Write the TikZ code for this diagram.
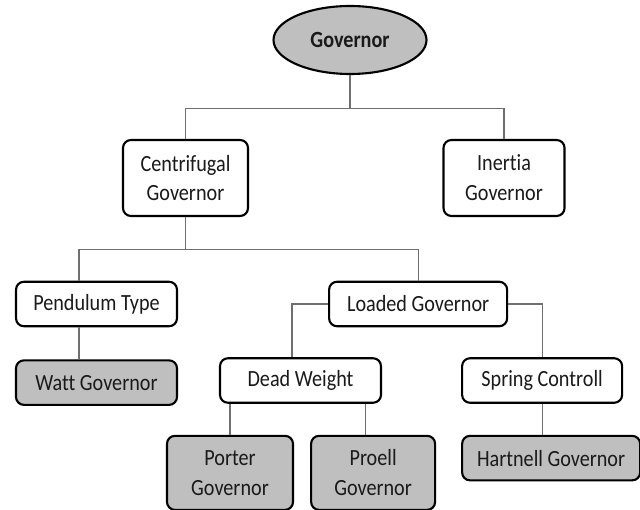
\documentclass[tikz,border=0pt]{standalone}
\usepackage{fontspec}
\setmainfont{Carlito}[FakeStretch=0.87,Ligatures=NoCommon]
\usepackage{tikz}
\usetikzlibrary{shapes.geometric,positioning}
\definecolor{govgrey}{HTML}{BFBFBF}
\definecolor{govline}{HTML}{6F6F6F}
\definecolor{govtext}{HTML}{1A1A1A}
\begin{document}
\begin{tikzpicture}[
  node distance=0.64cm and 3cm,
  box/.style={rectangle,rounded corners=4.5pt,draw=black,line width=1.2pt,fill=white,
    align=center,inner sep=3pt,text=govtext,font=\fontsize{13.2}{17}\selectfont,
    minimum height=0.89cm},
  tall/.style={box,minimum height=1.52cm},
  leaf/.style={box,fill=govgrey},
  root/.style={ellipse,draw=black,line width=1.2pt,fill=govgrey,minimum width=3.06cm,
    minimum height=1.36cm,inner sep=0pt,text=govtext,
    font=\fontsize{13.2}{17}\selectfont\bfseries},
  link/.style={draw=govline,line width=0.6pt}]
  \useasboundingbox (0,0) rectangle (12.8,-10.2);
  \node[root] (gov) at (7.0,-0.8) {Governor};
  \node[tall,minimum width=2.5cm] (cent) at (3.71,-3.56) {Centrifugal\\Governor};
  \node[tall,minimum width=2.42cm] (inert) at (10.08,-3.56) {Inertia\\Governor};
  \node[box,minimum width=3.22cm] (pend) at (1.93,-6.08) {Pendulum Type};
  \node[box,minimum width=3.56cm,right=of pend] (loaded) {Loaded Governor};
  \node[leaf,minimum width=3.22cm,below=of pend] (watt) {Watt Governor};
  \node[box,minimum width=3.22cm] (dead) at (6.01,-7.61) {Dead Weight};
  \node[box,minimum width=3.2cm,right=1.58cm of dead] (spring) {Spring Controll};
  \node[leaf,tall,fill=govgrey,minimum width=2.52cm,minimum height=1.48cm,
    below=0.62cm of dead,xshift=-1.41cm] (porter) {Porter\\Governor};
  \node[leaf,tall,fill=govgrey,minimum width=2.48cm,minimum height=1.48cm,
    right=0.32cm of porter] (proell) {Proell\\Governor};
  \node[leaf,minimum width=3.56cm,below=0.62cm of spring,xshift=0.18cm] (hart) {Hartnell Governor};
  % connectors
  \draw[link] (gov.south) -- ++(0,-0.66) -| (cent.north);
  \draw[link] (gov.south) -- ++(0,-0.66) -| (inert.north);
  \draw[link] (cent.south) -- ++(0,-0.64) -| ([xshift=-0.35cm]pend.north);
  \draw[link] (cent.south) -- ++(0,-0.64) -| (loaded.north);
  \draw[link] ([xshift=-0.35cm]pend.south) -- ([xshift=-0.35cm]watt.north);
  \draw[link] (loaded.west) -| ([xshift=-0.17cm]dead.north);
  \draw[link] (loaded.east) -| (spring.north);
  \draw[link] (porter.north) -- (porter.north |- dead.south);
  \draw[link] ([xshift=-0.16cm]proell.north) -- ([xshift=-0.16cm]proell.north |- dead.south);
  \draw[link] (spring.south) -- (spring.south |- hart.north);
\end{tikzpicture}
\end{document}
